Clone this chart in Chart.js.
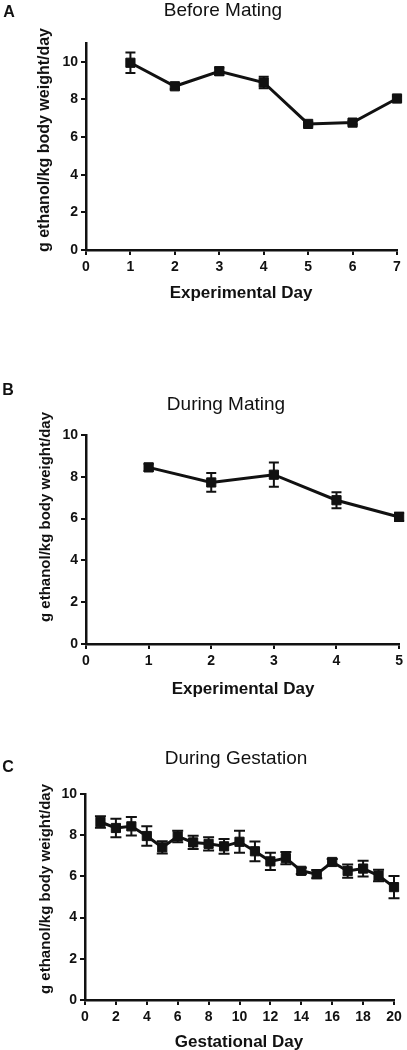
<!DOCTYPE html>
<html>
<head>
<meta charset="utf-8">
<script src="https://cdn.jsdelivr.net/npm/chart.js@4.4.1/dist/chart.umd.min.js"></script>
<style>
  body { margin: 0; background: #fff; }
  #page { position: relative; width: 407px; height: 1050px; overflow: hidden; font-family: "Liberation Sans", Arial, sans-serif; color: #111; }
  .band { position: absolute; left: 0; }
  .txt { position: absolute; white-space: nowrap; line-height: 1; transform: translate(-50%, -50%); }
  .rot { transform: translate(-50%, -50%) rotate(-90deg); }
</style>
</head>
<body>
<div id="page">
  <div class="band" style="top:0"><canvas id="chartA" width="407" height="300"></canvas></div>
  <div class="band" style="top:300px"><canvas id="chartB" width="407" height="400"></canvas></div>
  <div class="band" style="top:700px"><canvas id="chartC" width="407" height="350"></canvas></div>
</div>
<script>
// Panel A - before mating
const daysA = [1, 2, 3, 4, 5, 6, 7];
const meanA = [9.95, 8.7, 9.5, 8.9, 6.7, 6.77, 8.05];
const semA = [0.55, 0.15, 0.2, 0.3, 0.1, 0.1, 0.12];

// Panel B - during mating
const daysB = [1, 2, 3, 4, 5];
const meanB = [8.45, 7.73, 8.1, 6.88, 6.08];
const semB = [0.17, 0.45, 0.58, 0.38, 0.2];

// Panel C - during gestation
const daysC = [1, 2, 3, 4, 5, 6, 7, 8, 9, 10, 11, 12, 13, 14, 15, 16, 17, 18, 19, 20];
const meanC = [8.64, 8.35, 8.43, 7.96, 7.41, 7.94, 7.65, 7.58, 7.46, 7.68, 7.22, 6.73, 6.89, 6.27, 6.11, 6.7, 6.26, 6.38, 6.04, 5.48];
const semC = [0.28, 0.45, 0.45, 0.47, 0.3, 0.28, 0.32, 0.32, 0.36, 0.53, 0.48, 0.42, 0.3, 0.15, 0.2, 0.15, 0.32, 0.38, 0.28, 0.54];

const yTitle = 'g ethanol/kg body weight/day';

const ink = '#111';
const tickFont = { family: 'Liberation Sans', size: 14, weight: 'bold' };

// error bars (mean +/- sem) drawn under the markers
const errorBars = {
    id: 'errorBars',
    beforeDatasetsDraw(chart, args, opts) {
        const ctx = chart.ctx;
        const yScale = chart.scales.y;
        const meta = chart.getDatasetMeta(0);
        const data = chart.data.datasets[0].data;
        ctx.save();
        ctx.strokeStyle = ink;
        ctx.lineWidth = 2;
        meta.data.forEach((pt, i) => {
            const v = data[i].y;
            const e = opts.sems[i];
            const top = yScale.getPixelForValue(v + e);
            const bot = yScale.getPixelForValue(v - e);
            const half = opts.cap;
            ctx.beginPath();
            ctx.moveTo(pt.x, top); ctx.lineTo(pt.x, bot);
            ctx.moveTo(pt.x - half, top); ctx.lineTo(pt.x + half, top);
            ctx.moveTo(pt.x - half, bot); ctx.lineTo(pt.x + half, bot);
            ctx.stroke();
        });
        ctx.restore();
    }
};

function makeChart(id, days, means, sems, o) {
    const ctx = document.getElementById(id).getContext('2d');
    return new Chart(ctx, {
        type: 'line',
        data: {
            datasets: [{
                data: days.map((d, i) => ({ x: d, y: means[i] })),
                borderColor: ink,
                borderWidth: o.lineWidth,
                pointStyle: 'rect',
                pointRadius: o.pointRadius,
                pointBackgroundColor: ink,
                pointBorderColor: ink,
                pointBorderWidth: 1,
                clip: false,
                tension: 0
            }]
        },
        options: {
            responsive: false,
            devicePixelRatio: 1,
            animation: false,
            events: [],
            layout: { padding: { top: o.padTop, right: o.padRight, left: 0, bottom: 0 } },
            plugins: {
                legend: { display: false },
                tooltip: { enabled: false },
                errorBars: { sems: sems, cap: o.cap }
            },
            scales: {
                x: {
                    type: 'linear',
                    min: 0,
                    max: o.xMax,
                    grid: { drawOnChartArea: false, drawTicks: true, tickLength: 5, lineWidth: 2, color: ink },
                    border: { color: ink, width: 2.5 },
                    ticks: { stepSize: o.xStep, color: ink, font: tickFont, padding: 4, maxRotation: 0 },
                    afterFit: s => { s.height = o.xHeight; }
                },
                y: {
                    min: 0,
                    max: o.yMax,
                    grid: { drawOnChartArea: false, drawTicks: true, tickLength: 5, lineWidth: 2, color: ink },
                    border: { color: ink, width: 2.5 },
                    ticks: { stepSize: 2, includeBounds: false, color: ink, font: tickFont, padding: 3 },
                    afterFit: s => { s.width = o.yWidth; }
                }
            }
        },
        plugins: [errorBars]
    });
}

makeChart('chartA', daysA, meanA, semA, { xMax: 7, xStep: 1, yMax: 11, padTop: 43, padRight: 10, xHeight: 50, yWidth: 86, lineWidth: 3, pointRadius: 6.5, cap: 5 });
makeChart('chartB', daysB, meanB, semB, { xMax: 5, xStep: 1, yMax: 10, padTop: 135, padRight: 5, xHeight: 56, yWidth: 86, lineWidth: 3, pointRadius: 6.5, cap: 5 });
makeChart('chartC', daysC, meanC, semC, { xMax: 20, xStep: 2, yMax: 10, padTop: 94, padRight: 13, xHeight: 50, yWidth: 85, lineWidth: 3, pointRadius: 6.5, cap: 5.5 });

// text labels
const labels = [
    { t: 'A', x: 9, y: 12, size: 16, w: 'bold' },
    { t: 'Before Mating', x: 223, y: 9, size: 19, w: 'normal' },
    { t: 'Experimental Day', x: 241, y: 292, size: 17, w: 'bold' },
    { t: yTitle, x: 44, y: 140, size: 16, w: 'bold', rot: true },

    { t: 'B', x: 8, y: 390, size: 16, w: 'bold' },
    { t: 'During Mating', x: 226, y: 403, size: 19, w: 'normal' },
    { t: 'Experimental Day', x: 243, y: 688, size: 17, w: 'bold' },
    { t: yTitle, x: 44, y: 517, size: 15, w: 'bold', rot: true },

    { t: 'C', x: 8, y: 767, size: 16, w: 'bold' },
    { t: 'During Gestation', x: 236, y: 757, size: 19, w: 'normal' },
    { t: 'Gestational Day', x: 239, y: 1041, size: 17, w: 'bold' },
    { t: yTitle, x: 44, y: 889, size: 15, w: 'bold', rot: true }
];
const page = document.getElementById('page');
labels.forEach(l => {
    const el = document.createElement('div');
    el.className = l.rot ? 'txt rot' : 'txt';
    el.textContent = l.t;
    el.style.left = l.x + 'px';
    el.style.top = l.y + 'px';
    el.style.fontSize = l.size + 'px';
    el.style.fontWeight = l.w;
    page.appendChild(el);
});
</script>
</body>
</html>
